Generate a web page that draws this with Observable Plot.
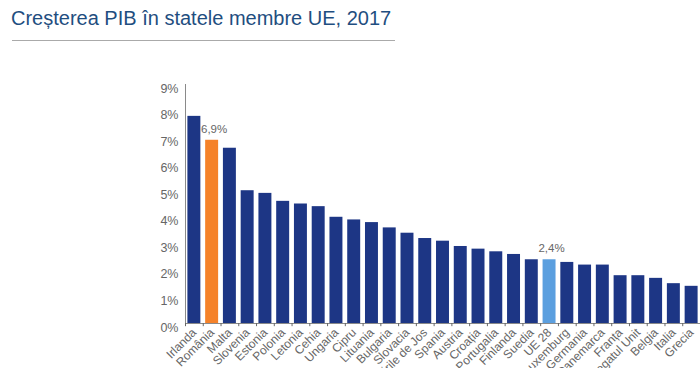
<!DOCTYPE html>
<html><head><meta charset="utf-8">
<script src="https://cdn.jsdelivr.net/npm/d3@7"></script>
<script src="https://cdn.jsdelivr.net/npm/@observablehq/plot@0.6"></script>
<style>
html,body{margin:0;background:#fff;overflow:hidden;font-family:"Liberation Sans",Arial,sans-serif;}
#title{position:relative;height:45px;}
#title h1{margin:0;position:absolute;left:11px;top:7px;font-weight:normal;font-size:20px;color:#1f4e80;white-space:nowrap;}
#title .line{position:absolute;left:12px;top:40px;width:383px;height:1px;background:#aaa;}
</style></head>
<body>
<div id="title"><h1>Creșterea PIB în statele membre UE, 2017</h1><div class="line"></div></div>
<div id="chart"></div>
<script>
const countries = ["Irlanda","România","Malta","Slovenia","Estonia","Polonia","Letonia","Cehia","Ungaria","Cipru","Lituania","Bulgaria","Slovacia","Țările de Jos","Spania","Austria","Croația","Portugalia","Finlanda","Suedia","UE 28","Luxemburg","Germania","Danemarca","Franța","Regatul Unit","Belgia","Italia","Grecia"];
const growth = [7.8,6.9,6.6,5.0,4.9,4.6,4.5,4.4,4.0,3.9,3.8,3.6,3.4,3.2,3.1,2.9,2.8,2.7,2.6,2.4,2.4,2.3,2.2,2.2,1.8,1.8,1.7,1.5,1.4];
const labelCountries = ["România","UE 28"];
const labelTexts = ["6,9%","2,4%"];
const yTicks = [0,1,2,3,4,5,6,7,8,9];

const colorOf = {"România":"#f5822a","UE 28":"#5b9fdf"};
const defaultColor = "#1d3685";

const data = countries.map((c,i)=>({country:c, value:growth[i]}));
const labels = labelCountries.map((c,i)=>({country:c, value:growth[countries.indexOf(c)], text:labelTexts[i]}));

const W = 700, ML = 185, MR = 0;
const step = (W - ML - MR) / countries.length;

const chart = Plot.plot({
  width: W,
  height: 323,
  marginLeft: ML,
  marginRight: MR,
  marginTop: 39,
  marginBottom: 45,
  style: {fontFamily: "Liberation Sans, Arial, sans-serif", background: "#fff", overflow: "visible"},
  x: {domain: countries, round: false, paddingInner: 0.27, paddingOuter: 0.135, label: null},
  y: {domain: [0, 9], label: null},
  marks: [
    Plot.barY(data, {x: "country", y: "value", fill: d => colorOf[d.country] || defaultColor}),
    Plot.ruleY([0], {stroke: "#8a8a8a", strokeWidth: 1}),
    Plot.frame({anchor: "left", stroke: "#8a8a8a"}),
    Plot.ruleX(data, {x: "country", y1: 0, y2: -0.12, dx: -step/2, stroke: "#666"}),
    Plot.text(labels, {x: "country", y: "value", text: "text", dx: 2, dy: -11, fill: "#666", fontSize: 11.5}),
    Plot.axisY({ticks: yTicks, tickSize: 0, tickPadding: 7, tickFormat: d => d + "%", dy: 4, fontSize: 12.5, color: "#666", label: null}),
    Plot.axisX({tickRotate: -45, tickSize: 0, tickPadding: 7, fontSize: 12, color: "#666", label: null})
  ]
});
document.getElementById("chart").appendChild(chart);
</script>
</body></html>
